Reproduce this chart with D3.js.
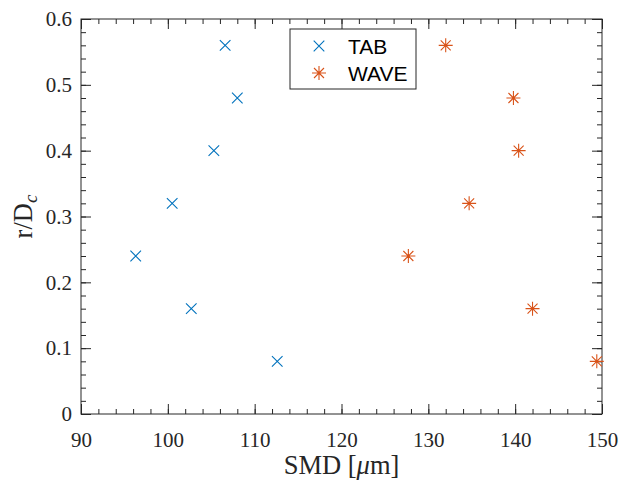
<!DOCTYPE html>
<html><head><meta charset="utf-8">
<script src="https://cdn.jsdelivr.net/npm/d3@7"></script>
<style>body{margin:0;background:#fff}</style>
</head><body>
<svg id="c" width="621" height="483"></svg>
<script>
const tabX = [96.3, 100.5, 102.7, 105.3, 106.6, 108.0, 112.6];
const tabY = [0.24, 0.32, 0.16, 0.40, 0.56, 0.48, 0.08];
const waveX = [127.7, 134.7, 142.0, 140.4, 132.0, 139.8, 149.4];
const waveY = [0.24, 0.32, 0.16, 0.40, 0.56, 0.48, 0.08];
const xTicks = [90, 100, 110, 120, 130, 140, 150];
const yTicks = [0, 0.1, 0.2, 0.3, 0.4, 0.5, 0.6];
const seriesNames = ["TAB", "WAVE"];
const colors = ["#0072BD", "#D95319"];

const svg = d3.select("#c");
const L = 81, R = 602, T = 19, B = 414;
const x = d3.scaleLinear().domain([90, 150]).range([L, R]);
const y = d3.scaleLinear().domain([0, 0.6]).range([B, T]);
const axisColor = "#262626";
const serif = "'Liberation Serif', 'Times New Roman', serif";
const sans = "'Liberation Sans', Arial, sans-serif";

const xMinor = d3.range(90, 150.01, 2);
const yMinor = d3.range(0, 0.6001, 0.02);

function styleAxis(g) {
  g.select(".domain").remove();
  g.selectAll("line").attr("stroke", axisColor).attr("stroke-width", 1);
}
// minor ticks
svg.append("g").attr("transform", `translate(0,${B})`)
  .call(d3.axisBottom(x).tickValues(xMinor).tickSize(-5).tickFormat(""))
  .call(styleAxis);
svg.append("g").attr("transform", `translate(0,${T})`)
  .call(d3.axisTop(x).tickValues(xMinor).tickSize(-5).tickFormat(""))
  .call(styleAxis);
svg.append("g").attr("transform", `translate(${L},0)`)
  .call(d3.axisLeft(y).tickValues(yMinor).tickSize(-5).tickFormat(""))
  .call(styleAxis);
svg.append("g").attr("transform", `translate(${R},0)`)
  .call(d3.axisRight(y).tickValues(yMinor).tickSize(-5).tickFormat(""))
  .call(styleAxis);
// major ticks
const xb = svg.append("g").attr("transform", `translate(0,${B})`)
  .call(d3.axisBottom(x).tickValues(xTicks).tickSize(-10).tickPadding(18).tickFormat(d3.format("d")))
  .call(styleAxis);
xb.selectAll("text").attr("font-family", serif).attr("font-size", 21).attr("fill", axisColor);
svg.append("g").attr("transform", `translate(0,${T})`)
  .call(d3.axisTop(x).tickValues(xTicks).tickSize(-10).tickFormat(""))
  .call(styleAxis);
const yl = svg.append("g").attr("transform", `translate(${L},0)`)
  .call(d3.axisLeft(y).tickValues(yTicks).tickSize(-10).tickPadding(9).tickFormat(d => d === 0 ? "0" : d3.format(".1f")(d)))
  .call(styleAxis);
yl.selectAll("text").attr("font-family", serif).attr("font-size", 21).attr("fill", axisColor);
svg.append("g").attr("transform", `translate(${R},0)`)
  .call(d3.axisRight(y).tickValues(yTicks).tickSize(-10).tickFormat(""))
  .call(styleAxis);

// box
svg.append("rect").attr("x", L).attr("y", T).attr("width", R - L).attr("height", B - T)
  .attr("fill", "none").attr("stroke", axisColor).attr("stroke-width", 1);

function crossPath(s) { return `M${-s},${-s}L${s},${s}M${-s},${s}L${s},${-s}`; }
function starPath(p, d) { return `M${-p},0L${p},0M0,${-p}L0,${p}` + crossPath(d); }

const tabData = tabX.map((v, i) => ({x: v, y: tabY[i]}));
const waveData = waveX.map((v, i) => ({x: v, y: waveY[i]}));

svg.append("g").selectAll("path").data(tabData).join("path")
  .attr("transform", d => `translate(${x(d.x)},${y(d.y)})`)
  .attr("d", crossPath(5.3)).attr("stroke", colors[0]).attr("stroke-width", 1.1).attr("fill", "none");
svg.append("g").selectAll("path").data(waveData).join("path")
  .attr("transform", d => `translate(${x(d.x)},${y(d.y)})`)
  .attr("d", starPath(7, 5)).attr("stroke", colors[1]).attr("stroke-width", 1.1).attr("fill", "none");

// legend
const lg = svg.append("g");
lg.append("rect").attr("x", 290).attr("y", 29).attr("width", 126).attr("height", 60)
  .attr("fill", "#fff").attr("stroke", axisColor).attr("stroke-width", 1);
const rows = [46, 73];
lg.append("path").attr("transform", `translate(319,${rows[0]})`).attr("d", crossPath(5.3))
  .attr("stroke", colors[0]).attr("stroke-width", 1.1).attr("fill", "none");
lg.append("path").attr("transform", `translate(319,${rows[1]})`).attr("d", starPath(7, 5))
  .attr("stroke", colors[1]).attr("stroke-width", 1.1).attr("fill", "none");
seriesNames.forEach((n, i) => {
  lg.append("text").attr("x", 348).attr("y", rows[i] + 8).attr("font-family", sans)
    .attr("font-size", 21).attr("fill", "#000").text(n);
});

// x label
const xt = svg.append("text").attr("x", (L + R) / 2).attr("y", 474).attr("text-anchor", "middle")
  .attr("font-family", serif).attr("font-size", 26.5).attr("fill", axisColor);
xt.append("tspan").text("SMD [");
xt.append("tspan").attr("font-style", "italic").text("μ");
xt.append("tspan").text("m]");

// y label
const yt = svg.append("text").attr("transform", `translate(32,${(T + B) / 2}) rotate(-90)`)
  .attr("text-anchor", "middle").attr("font-family", serif).attr("font-size", 26.5).attr("fill", axisColor);
yt.append("tspan").text("r/D");
yt.append("tspan").attr("font-style", "italic").attr("font-size", 19).attr("dy", 5).text("c");
</script>
</body></html>
